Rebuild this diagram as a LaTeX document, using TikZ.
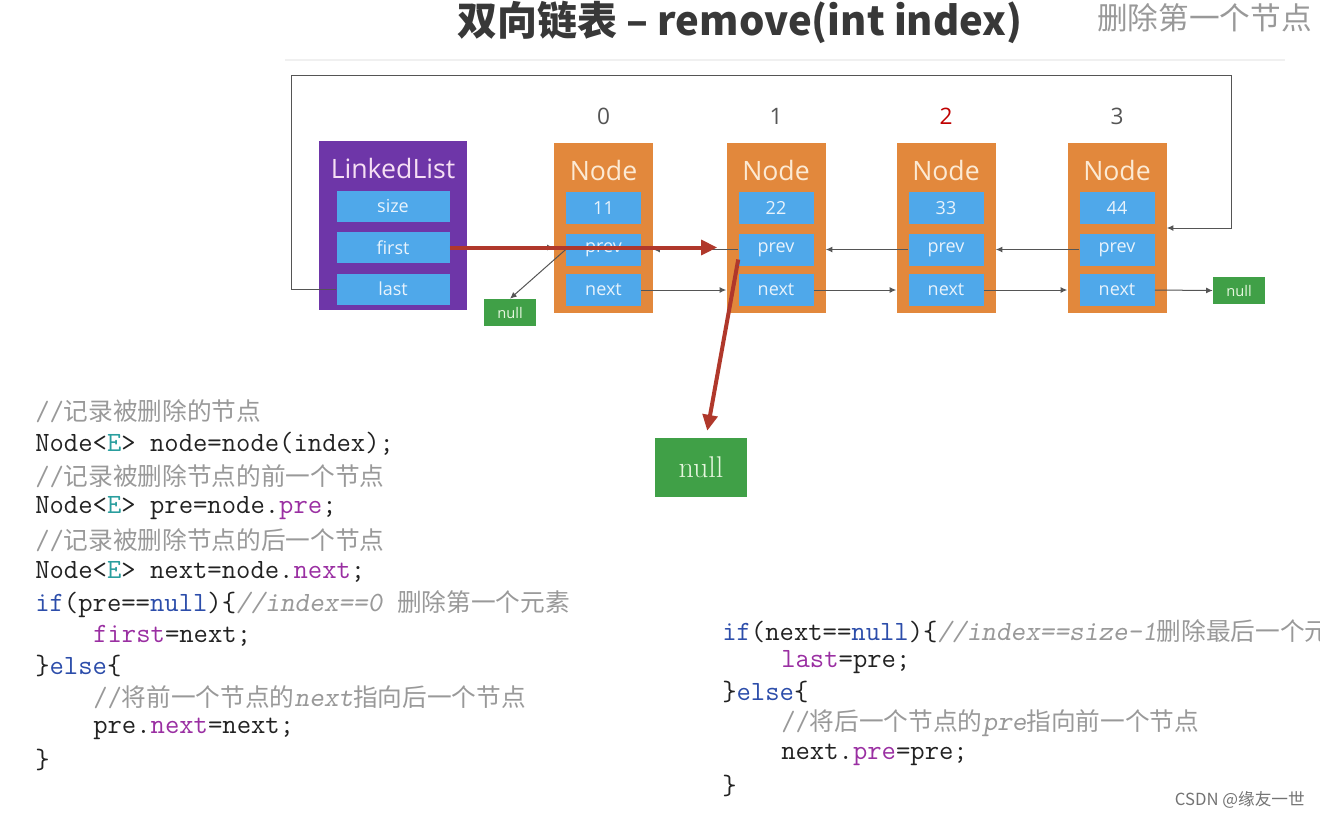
\documentclass[tikz,border=0pt]{standalone}
\usepackage{fontspec}
\usepackage{xcolor}
\usetikzlibrary{arrows.meta,positioning,calc}
\newfontfamily\cjk{Noto Sans CJK SC}
\newfontfamily\opensans{Open Sans}
% one pixel of the slide
\newlength\pxu
\setlength\pxu{0.75pt}
\definecolor{listpurple}{HTML}{6E36A8}
\definecolor{nodeorange}{HTML}{E2883C}
\definecolor{fieldblue}{HTML}{4FA8EA}
\definecolor{fieldtext}{HTML}{E8F3FC}
\definecolor{nodetext}{HTML}{FCEAD4}
\definecolor{listtext}{HTML}{F6DFF4}
\definecolor{nullgreen}{HTML}{40A047}
\definecolor{nulltext}{HTML}{E6F6DE}
\definecolor{redarrow}{HTML}{B0382B}
\definecolor{linegray}{HTML}{555555}
\definecolor{idxgray}{HTML}{555555}
\definecolor{kwblue}{HTML}{2C4DAA}
\definecolor{fldpurple}{HTML}{9A2FA2}
\definecolor{typeteal}{HTML}{2A9E9E}
\definecolor{cmtgray}{HTML}{999999}
\definecolor{codeblack}{HTML}{222222}
\newcommand\kw[1]{\textcolor{kwblue}{#1}}
\newcommand\fld[1]{\textcolor{fldpurple}{#1}}
\newcommand\tp[1]{\textcolor{typeteal}{#1}}
\newcommand\cmt[1]{\textcolor{cmtgray}{#1}}
\newcommand\zh[1]{{\cjk\fontsize{18.5}{24}\selectfont#1}}
\tikzset{
  list_box/.style={fill=listpurple, minimum width=148\pxu, minimum height=169\pxu, inner sep=0pt},
  node_box/.style={fill=nodeorange, minimum width=99\pxu, minimum height=170\pxu, inner sep=0pt},
  field/.style={fill=fieldblue, minimum width=75\pxu, minimum height=32\pxu, inner sep=0pt,
    text=fieldtext, font=\opensans\fontsize{13.5}{14}\selectfont},
  ll_field/.style={field, minimum width=113\pxu, minimum height=31\pxu},
  box_title/.style={inner sep=0pt, text=nodetext, font=\opensans\fontsize{20}{22}\selectfont},
  idx/.style={inner sep=0pt, text=idxgray, font=\opensans\fontsize{17}{20}\selectfont},
  null_small/.style={fill=nullgreen, minimum width=52\pxu, minimum height=27\pxu, inner sep=0pt,
    text=nulltext, font=\opensans\fontsize{11}{12}\selectfont},
  null_big/.style={fill=nullgreen, minimum width=92\pxu, minimum height=59\pxu, inner sep=0pt,
    text=nulltext, font=\fontsize{22.5}{24}\selectfont},
  ptr/.style={draw=linegray, line width=0.75pt, -{Latex[length=5pt,width=4.5pt]}},
  red_ptr/.style={draw=redarrow, line width=3pt, -{Triangle[length=12pt,width=11pt]}},
  code/.style={anchor=west, inner sep=0pt, text=codeblack, font=\ttfamily\fontsize{20.9}{24}\selectfont},
}
\begin{document}
\begin{tikzpicture}[x=0.75pt, y=-0.75pt]
  \useasboundingbox (0,0) rectangle (1320,819);
  \clip (0,0) rectangle (1320,819);

  % heading
  \node[inner sep=0pt, text=black!78, font=\cjk\bfseries\fontsize{30}{32}\selectfont] (title) at (740,22) {双向链表 – remove(int index)};
  \node[anchor=west, inner sep=0pt, text=black!40, font=\cjk\fontsize{23}{26}\selectfont] (subtitle) at (1097,18) {删除第一个节点};
  \draw[black!6, line width=1.5\pxu] (285,60) -- (1285,60);

  % LinkedList
  \node[list_box] (ll) at (393,225.5) {};
  \node[box_title, text=listtext] (llTitle) at (393,168) {LinkedList};
  \node[ll_field] (llSize) at (393,206) {size};
  \node[ll_field] (llFirst) at (393,247.5) {first};
  \node[ll_field] (llLast) at (393,289) {last};

  % Nodes
  \node[node_box] (n0) at (603.5,228) {};
  \node[box_title] (n0t) at (603.5,170) {Node};
  \node[field] (n0v) at (603.5,208) {11};
  \node[field] (n0p) at (603.5,249.5) {prev};
  \node[field] (n0n) at (603.5,290) {next};
  \node[idx] (i0) at (603.5,116) {0};

  \node[node_box] (n1) at (776,228) {};
  \node[box_title] (n1t) at (776,170) {Node};
  \node[field] (n1v) at (776,208) {22};
  \node[field] (n1p) at (776,249.5) {prev};
  \node[field] (n1n) at (776,290) {next};
  \node[idx] (i1) at (776,116) {1};

  \node[node_box] (n2) at (946,228) {};
  \node[box_title] (n2t) at (946,170) {Node};
  \node[field] (n2v) at (946,208) {33};
  \node[field] (n2p) at (946,249.5) {prev};
  \node[field] (n2n) at (946,290) {next};
  \node[idx, text=red!75!black] (i2) at (946,116) {2};

  \node[node_box] (n3) at (1117,228) {};
  \node[box_title] (n3t) at (1117,170) {Node};
  \node[field] (n3v) at (1117,208) {44};
  \node[field] (n3p) at (1117,249.5) {prev};
  \node[field] (n3n) at (1117,290) {next};
  \node[idx] (i3) at (1117,116) {3};

  \node[null_small] (null0) at (510,312.5) {null};
  \node[null_small] (null3) at (1239,290.5) {null};
  \node[null_big] (nullBig) at (701,467.5) {null};

  % links
  \coordinate (loopL) at (291,75);
  \coordinate (loopR) at (1231,228);
  \draw[ptr] (llLast.west) -| (loopL) -| (loopR) -- (n3.east);
  \draw[ptr] (llFirst.east) -- (llFirst.east -| n0.west);
  \draw[ptr] (n0p.west) -- (null0.north);
  \draw[ptr] (n1p.west) -- (n1p.west -| n0.east);
  \draw[ptr] (n2p.west) -- (n2p.west -| n1.east);
  \draw[ptr] (n3p.west) -- (n3p.west -| n2.east);
  \draw[ptr] (n0n.east) -- (n0n.east -| n1.west);
  \draw[ptr] (n1n.east) -- (n1n.east -| n2.west);
  \draw[ptr] (n2n.east) -- (n2n.east -| n3.west);
  \draw[ptr] (n3n.east) -- (null3.west);

  \draw[red_ptr, shorten >=9\pxu] (llFirst.east) -- (llFirst.east -| n1.west);
  \draw[red_ptr, shorten >=7\pxu] ($(n1p.west)+(0,10)$) -- ($(nullBig.north)+(5,0)$);

  % code, left
  \node[code] (c1) at (35,411) {\cmt{//\zh{记录被删除的节点}}};
  \node[code] (c2) at (35,444) {Node<\tp{E}> node=node(index);};
  \node[code] (c3) at (35,476) {\cmt{//\zh{记录被删除节点的前一个节点}}};
  \node[code] (c4) at (35,508) {Node<\tp{E}> pre=node.\fld{pre};};
  \node[code] (c5) at (35,540) {\cmt{//\zh{记录被删除节点的后一个节点}}};
  \node[code] (c6) at (35,572) {Node<\tp{E}> next=node.\fld{next};};
  \node[code] (c7) at (35,604) {\kw{if}(pre==\kw{null})\{\cmt{\slshape//index==0 \zh{删除第一个元素}}};
  \node[code] (c8) at (93,636) {\fld{first}=next;};
  \node[code] (c9) at (35,666) {\}\kw{else}\{};
  \node[code] (c10) at (93,697) {\cmt{//\zh{将前一个节点的}\textsl{next}\zh{指向后一个节点}}};
  \node[code] (c11) at (93,729) {pre.\fld{next}=next;};
  \node[code] (c12) at (35,760) {\}};

  % code, right
  \node[code] (d1) at (722,631) {\kw{if}(next==\kw{null})\{\cmt{\slshape//index==size-1\zh{删除最后一个元素}}};
  \node[code] (d2) at (781,662) {\fld{last}=pre;};
  \node[code] (d3) at (722,692) {\}\kw{else}\{};
  \node[code] (d4) at (781,723) {\cmt{//\zh{将后一个节点的}\textsl{pre}\zh{指向前一个节点}}};
  \node[code] (d5) at (781,755) {next.\fld{pre}=pre;};
  \node[code] (d6) at (722,786) {\}};

  \node[anchor=east, inner sep=0pt, text=black!55, font=\cjk\fontsize{12.5}{14}\selectfont] (mark) at (1305,800) {CSDN @缘友一世};
\end{tikzpicture}
\end{document}
